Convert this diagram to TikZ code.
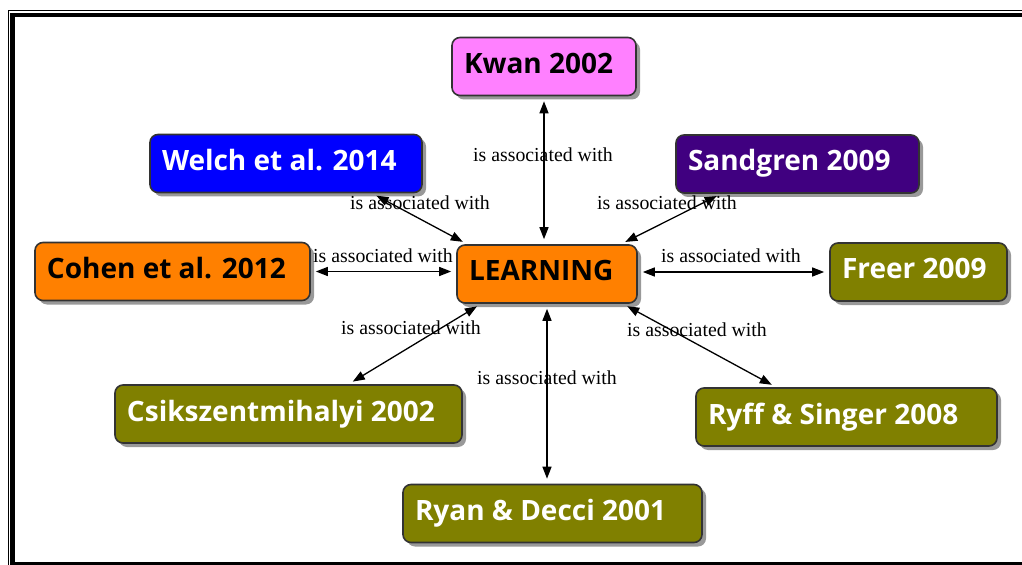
\documentclass[tikz,border=0pt]{standalone}
\usepackage{fontspec}
\setmainfont{Liberation Serif}
\newfontfamily\boxfont{Open Sans}
\usetikzlibrary{arrows.meta,shadows}

\definecolor{cpink}{HTML}{FF80FF}
\definecolor{cblue}{HTML}{0000FF}
\definecolor{cpurple}{HTML}{400080}
\definecolor{corange}{HTML}{FF8000}
\definecolor{colive}{HTML}{808000}
\definecolor{cedge}{HTML}{333333}

\tikzset{
  concept/.style={draw=cedge, line width=1.6bp, rounded corners=8bp,
    minimum height=58bp, inner xsep=12bp, inner ysep=0bp,
    text height=21bp, text depth=7bp,
    font=\boxfont\bfseries\fontsize{28bp}{30bp}\selectfont,
    drop shadow={shadow xshift=4bp, shadow yshift=-4bp, fill=black, opacity=0.4}},
  link/.style={{Triangle[length=12bp,width=9bp]}-{Triangle[length=12bp,width=9bp]},
    line width=1.3bp, shorten <=5bp, shorten >=5bp},
  rel/.style={font=\fontsize{19.8bp}{21bp}\selectfont, inner sep=0bp}
}
\newcommand{\lbox}[2]{\makebox[#1][l]{#2}}

\begin{document}
\begin{tikzpicture}[x=1bp, y=-1bp]
  \useasboundingbox (0,0) rectangle (1022,565);
  \clip (0,0) rectangle (1022,565);
  \fill[white] (0,0) rectangle (1022,565);

  % outer frame
  \draw[line width=1.2bp] (1030,10.5) -- (8.5,10.5) -- (8.5,570);
  \draw[line width=4.2bp] (1030,15.3) -- (12.5,15.3) -- (12.5,563.6) -- (1030,563.6);

  % concepts
  \node[concept, fill=cpink, text=black] (kwan) at (544,66.5) {\lbox{160bp}{Kwan 2002}};
  \node[concept, fill=cblue, text=white] (welch) at (286,163.5) {\lbox{248bp}{Welch et al. 2014}};
  \node[concept, fill=cpurple, text=white] (sand) at (797.5,164) {\lbox{219bp}{Sandgren 2009}};
  \node[concept, fill=corange, text=black] (cohen) at (172.5,271.5) {\lbox{251bp}{Cohen et al. 2012}};
  \node[concept, fill=corange, text=black] (learn) at (547,274) {\lbox{156bp}{LEARNING}};
  \node[concept, fill=colive, text=white] (freer) at (918.5,272) {\lbox{153bp}{Freer 2009}};
  \node[concept, fill=colive, text=white] (csik) at (288.5,414) {\lbox{323bp}{Csikszentmihalyi 2002}};
  \node[concept, fill=colive, text=white] (ryff) at (846.5,417) {\lbox{277bp}{Ryff \& Singer 2008}};
  \node[concept, fill=colive, text=white] (ryan) at (552.5,513.5) {\lbox{275bp}{Ryan \& Decci 2001}};

  % links
  \draw[link] (kwan.south) -- (kwan.south |- learn.north);
  \draw[link] ([xshift=86bp]welch.south) -- ([xshift=11bp]learn.north west);
  \draw[link] ([xshift=46bp]sand.south west) -- ([xshift=-17bp]learn.north east);
  \draw[link] (cohen.east) -- (cohen.east -| learn.west);
  \draw[link] (freer.west -| learn.east) -- (freer.west);
  \draw[link] ([xshift=60bp]csik.north) -- ([xshift=25bp]learn.south west);
  \draw[link] ([xshift=-15bp]learn.south east) -- ([xshift=81bp]ryff.north west);
  \draw[link] (learn.south) -- (learn.south |- ryan.north);

  % link phrases
  \node[rel] (rkwan) at (543,155) {is associated with};
  \node[rel] (rwelch) at (420,203) {is associated with};
  \node[rel] (rsand) at (667,203) {is associated with};
  \node[rel] (rcohen) at (383,256) {is associated with};
  \node[rel] (rfreer) at (731,256) {is associated with};
  \node[rel] (rcsik) at (411,328) {is associated with};
  \node[rel] (rryff) at (697,330) {is associated with};
  \node[rel] (rryan) at (547,378) {is associated with};
\end{tikzpicture}
\end{document}
